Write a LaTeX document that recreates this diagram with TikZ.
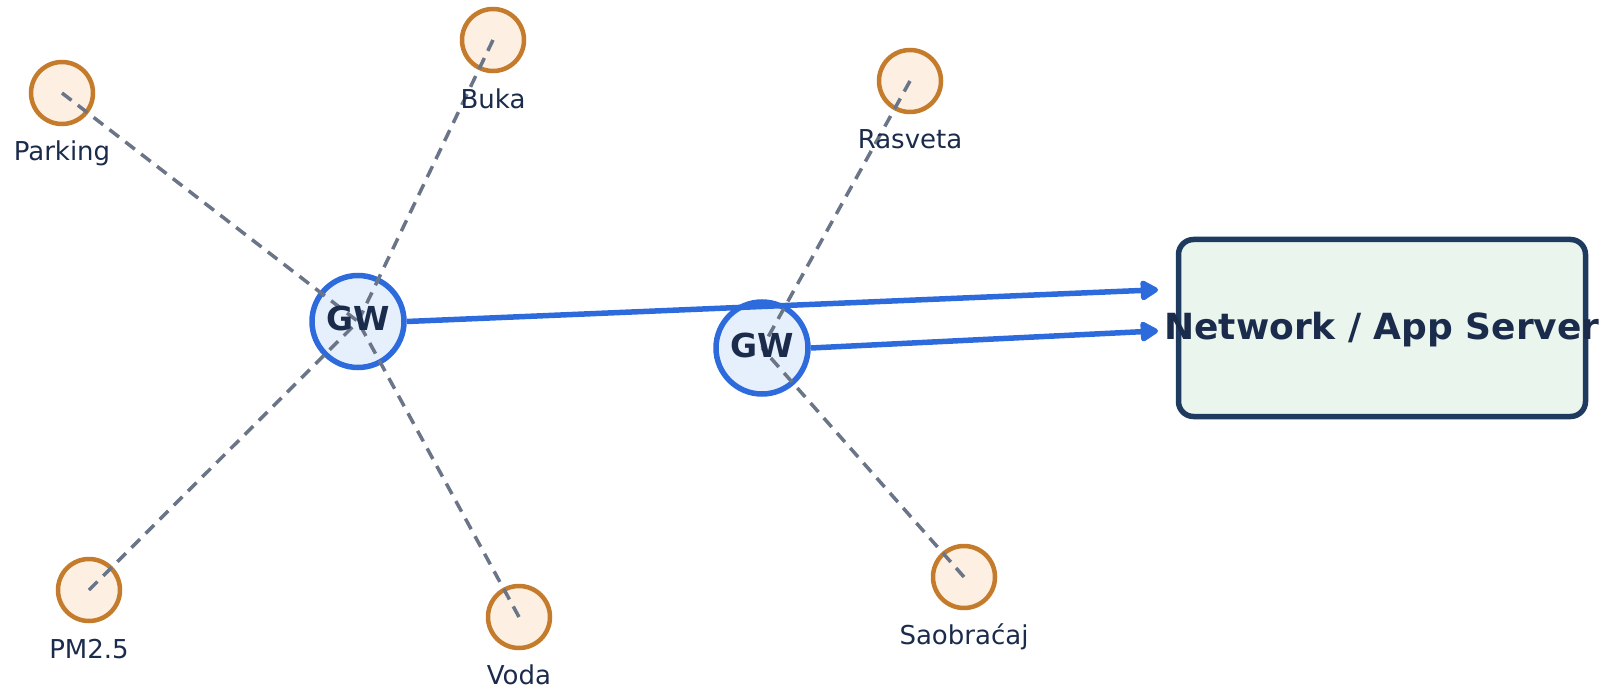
\documentclass[tikz,border=0pt]{standalone}
\usepackage{fontspec}
\setmainfont{DejaVu Sans}
\usetikzlibrary{arrows.meta,calc}
\definecolor{sensstroke}{HTML}{C47B2B}
\definecolor{sensfill}{HTML}{FDF0E3}
\definecolor{gwstroke}{HTML}{2D6BDC}
\definecolor{gwfill}{HTML}{E6F0FC}
\definecolor{navy}{HTML}{1B2B4B}
\definecolor{dashgray}{HTML}{6B7588}
\definecolor{srvstroke}{HTML}{1F3A5F}
\definecolor{srvfill}{HTML}{EAF5EE}
\tikzset{
  sensor/.style={circle,draw=sensstroke,fill=sensfill,line width=4.5pt,minimum size=62pt,inner sep=0pt},
  gateway/.style={circle,draw=gwstroke,fill=gwfill,line width=5.5pt,minimum size=92pt,inner sep=0pt},
  gwtext/.style={text=navy,font=\bfseries\fontsize{33}{38}\selectfont,inner sep=0pt},
  slabel/.style={text=navy,font=\fontsize{26}{30}\selectfont,inner sep=0pt,anchor=base},
  link/.style={draw=dashgray,line width=3.5pt,dash pattern=on 12pt off 8pt},
  uplink/.style={draw=gwstroke,line width=5.5pt,-{Triangle[length=20pt,width=22pt,round]}},
  server/.style={draw=srvstroke,fill=srvfill,line width=5.5pt,rounded corners=15pt,minimum width=407pt,minimum height=177pt,inner sep=0pt},
  srvtext/.style={text=navy,font=\bfseries\fontsize{36}{42}\selectfont,inner sep=0pt,anchor=base}
}
\begin{document}
\begin{tikzpicture}[x=1pt,y=-1pt]
\useasboundingbox (0,0) rectangle (1620,687);
% sensors
\node[sensor] (park) at (62,93) {};
\node[sensor] (buka) at (493,40) {};
\node[sensor] (rasv) at (910,81) {};
\node[sensor] (pm) at (89,590) {};
\node[sensor] (voda) at (519,617) {};
\node[sensor] (saob) at (964,577) {};
% gateways
\node[gateway] (gw1) at (358,321.5) {};
\node[gateway] (gw2) at (762,348) {};
% server
\node[server] (srv) at (1382,328) {};
% uplinks
\coordinate (in1) at (1176,289);
\coordinate (in2) at (1176,330);
\draw[uplink,shorten >=18pt] (gw1.east) -- (in1);
\draw[uplink,shorten >=18pt] (gw2.east) -- (in2);
% dashed links
\draw[link] (park.center) -- (gw1.center);
\draw[link] (buka.center) -- (gw1.center);
\draw[link] (pm.center) -- (gw1.center);
\draw[link] (voda.center) -- (gw1.center);
\draw[link] (rasv.center) -- (gw2.center);
\draw[link] (saob.center) -- (gw2.center);
% texts
\node[gwtext] (gw1t) at ($(gw1.center)+(0,-3)$) {GW};
\node[gwtext] (gw2t) at ($(gw2.center)+(0,-3)$) {GW};
\node[srvtext] (srvt) at (1382,339) {Network / App Server};
\node[slabel] (parkl) at ($(park)+(0,68)$) {Parking};
\node[slabel] (bukal) at ($(buka)+(0,69)$) {Buka};
\node[slabel] (rasvl) at ($(rasv)+(0,68)$) {Rasveta};
\node[slabel] (pml) at ($(pm)+(0,68)$) {PM2.5};
\node[slabel] (vodal) at ($(voda)+(0,67)$) {Voda};
\node[slabel] (saobl) at ($(saob)+(0,67)$) {Saobraćaj};
\end{tikzpicture}
\end{document}
